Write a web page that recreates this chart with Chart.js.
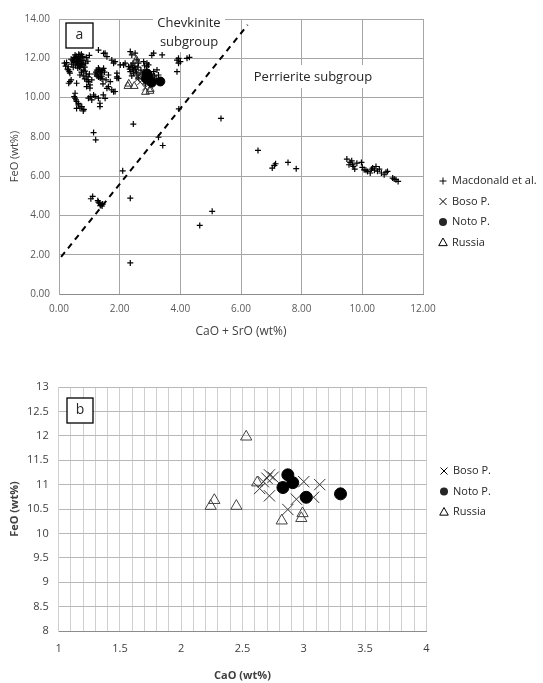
<!DOCTYPE html>
<html>
<head>
<meta charset="utf-8">
<script src="https://cdn.jsdelivr.net/npm/chart.js@4.4.0/dist/chart.umd.min.js"></script>
<style>
  html, body { margin: 0; padding: 0; background: #fff; }
  #wrapA { position: absolute; left: 0; top: 0; }
  #wrapB { position: absolute; left: 0; top: 360px; }
</style>
</head>
<body>
<div id="wrapA"><canvas id="chartA" width="543" height="345"></canvas></div>
<div id="wrapB"><canvas id="chartB" width="543" height="323"></canvas></div>
<script>
// ---- data ----
// panel a : CaO + SrO vs FeO (wt%)
var macdonald = [
  [0.18,11.75],[0.22,11.6],[0.25,11.78],[0.3,11.57],[0.34,11.32],[0.28,11.45],[0.45,11.9],[0.5,12.05],
  [0.53,12.17],[0.58,11.83],[0.6,11.95],[0.64,12.0],[0.66,11.7],[0.69,12.17],[0.7,11.85],[0.72,11.6],
  [0.75,11.66],[0.78,12.1],[0.8,11.4],[0.82,11.9],[0.85,11.55],[0.88,11.75],[0.9,12.05],[0.55,11.65],
  [0.62,11.5],[0.48,11.8],[0.4,11.95],[0.95,11.85],[1.0,12.15],[0.74,11.3],[0.69,11.15],
  [0.42,11.7],[0.47,11.55],[0.52,11.9],[0.57,12.1],[0.6,11.75],[0.63,11.85],[0.67,11.95],[0.71,12.05],
  [0.73,11.75],[0.76,11.9],[0.79,11.7],[0.56,12.0],[0.65,12.2],[0.62,11.65],[0.68,11.55],[0.74,12.2],
  [0.86,11.35],[0.9,11.2],[0.96,11.05],
  [0.32,10.73],[0.4,10.9],[0.36,11.24],[0.31,11.41],[0.36,10.81],[0.58,10.73],[0.92,10.9],[1.02,10.65],
  [0.91,10.56],[0.97,10.81],[1.08,10.9],[0.8,11.1],[0.85,10.95],[1.0,11.2],[1.02,10.48],
  [0.5,10.05],[0.53,10.22],[0.53,9.97],[0.56,9.88],[0.58,9.8],[0.64,9.7],[0.64,9.63],[0.69,9.46],
  [0.75,9.54],[0.8,9.32],[0.82,9.4],[0.58,9.45],[0.97,9.97],[1.03,10.05],[1.08,9.88],[1.14,10.13],
  [1.19,10.05],[1.3,9.97],[1.35,9.71],[1.35,9.54],[1.46,10.14],[1.52,9.96],
  [1.3,12.42],[1.47,12.25],[1.52,12.26],[1.58,12.08],[1.74,11.91],[1.8,11.75],[1.85,11.83],[1.19,11.2],
  [1.25,11.4],[1.3,11.5],[1.35,11.32],[1.41,11.06],[1.47,11.49],[1.5,11.3],[1.4,11.15],[1.63,11.15],
  [1.69,10.81],[1.58,10.47],[1.63,10.56],[1.74,10.39],[1.8,10.3],[1.85,10.31],[1.91,11.06],[1.91,10.99],
  [1.91,11.24],[1.96,10.98],[2.02,11.66],[2.13,11.66],[2.18,11.75],[1.55,10.9],[1.45,10.7],
  [1.22,11.3],[1.28,11.2],[1.33,11.42],[1.38,11.25],[1.44,11.38],[1.36,11.0],[1.3,11.05],[1.42,10.95],
  [1.25,11.1],
  [2.29,11.58],[2.33,11.45],[2.35,11.32],[2.35,12.34],[2.4,12.17],[2.46,11.4],[2.51,12.26],[2.57,11.92],
  [2.62,11.75],[2.46,11.24],[2.57,11.15],[2.62,10.99],[2.79,11.83],[2.9,11.75],[2.95,11.66],[2.82,11.62],
  [2.9,11.57],[3.12,11.32],[3.06,12.15],[3.12,12.26],[3.4,12.17],[3.23,11.41],[3.28,11.15],[2.7,11.4],
  [2.75,11.2],[3.0,11.0],[2.85,10.7],
  [2.38,11.65],[2.42,11.52],[2.5,11.6],[2.44,11.75],[2.53,11.45],[2.4,11.1],[2.55,11.3],[2.6,11.55],
  [2.8,11.3],[2.88,11.4],[2.95,11.3],[3.05,11.2],[3.15,11.1],[3.1,10.9],[3.2,10.95],[2.98,10.85],
  [3.89,11.32],[3.89,11.91],[3.94,12.0],[4.0,11.83],[3.94,11.75],[4.22,12.0],[4.3,12.05],
  [2.45,8.65],[1.14,8.22],[1.21,7.85],[3.95,9.42],[5.34,8.94],[3.42,7.56],[3.28,7.98],[2.1,6.27],
  [2.35,4.88],[2.35,1.58],[4.64,3.49],[5.05,4.21],
  [1.05,4.85],[1.11,4.97],[1.28,4.75],[1.33,4.63],[1.39,4.55],[1.44,4.58],[1.3,4.68],[1.36,4.5],[1.42,4.48],
  [6.56,7.31],[7.03,6.41],[7.14,6.63],[7.1,6.55],[7.55,6.7],[7.82,6.38],
  [9.49,6.87],[9.56,6.58],[9.6,6.7],[9.65,6.78],[9.68,6.58],[9.7,6.5],[9.75,6.36],[9.82,6.66],
  [9.97,6.7],[10.0,6.45],[10.06,6.32],[10.12,6.3],[10.17,6.24],[10.26,6.16],[10.3,6.35],[10.34,6.41],
  [10.4,6.3],[10.45,6.49],[10.5,6.25],[10.56,6.36],[10.63,6.16],[10.72,6.07],[10.78,6.2],[10.83,6.24],
  [11.0,5.9],[11.05,5.85],[11.11,5.82],[11.18,5.73]
];
var bosoA = [[2.67,11.22],[2.65,11.15],[2.62,11.08],[2.59,10.94],[2.68,10.79],[2.96,11.08],[3.1,11.02],
  [2.9,10.72],[3.04,10.76],[2.84,10.51]];
var notoA = [[2.91,11.22],[2.95,11.06],[2.87,10.96],[3.06,10.76],[3.34,10.82]];
var russiaA = [[2.55,11.92],[2.27,10.58],[2.3,10.7],[2.48,10.58],[2.65,11.05],[2.85,10.28],[3.01,10.43],[3.0,10.33]];
var boundary = [[0.07,1.89],[6.22,13.7]];

// panel b : CaO vs FeO (wt%)
var bosoB = [[2.72,11.2],[2.70,11.13],[2.67,11.06],[2.64,10.92],[2.72,10.77],[3.0,11.06],[3.13,11.0],
  [2.94,10.7],[3.08,10.74],[2.87,10.49],[2.75,11.15]];
var notoB = [[2.87,11.2],[2.91,11.04],[2.83,10.94],[3.02,10.74],[3.30,10.81]];
var russiaB = [[2.53,11.98],[2.27,10.68],[2.24,10.56],[2.45,10.56],[2.62,11.04],[2.82,10.26],[2.99,10.41],[2.98,10.31]];

var rangeA = { xMin: 0, xMax: 12, xStep: 2, yMin: 0, yMax: 14, yStep: 2 };
var rangeB = { xMin: 1, xMax: 4, xStep: 0.1, yMin: 8, yMax: 13, yStep: 0.5 };

function pts(arr) {
  return arr.map(function(p) { return { x: p[0], y: p[1] }; });
}

Chart.defaults.font.family = "'Open Sans', sans-serif";
Chart.defaults.color = '#404040';

// small hand drawn legend marks
function mark(ctx, style, r, x, y, fill) {
  ctx.save();
  ctx.strokeStyle = '#000';
  ctx.fillStyle = fill || '#000';
  ctx.lineWidth = 1;
  ctx.beginPath();
  if (style === 'cross') {
    ctx.moveTo(x - r, y); ctx.lineTo(x + r, y);
    ctx.moveTo(x, y - r); ctx.lineTo(x, y + r);
    ctx.stroke();
  } else if (style === 'crossRot') {
    ctx.moveTo(x - r, y - r); ctx.lineTo(x + r, y + r);
    ctx.moveTo(x + r, y - r); ctx.lineTo(x - r, y + r);
    ctx.stroke();
  } else if (style === 'circle') {
    ctx.arc(x, y, r, 0, Math.PI * 2);
    ctx.fill();
  } else if (style === 'triangle') {
    ctx.moveTo(x, y - r);
    ctx.lineTo(x + r * 0.95, y + r * 0.7);
    ctx.lineTo(x - r * 0.95, y + r * 0.7);
    ctx.closePath();
    ctx.stroke();
  }
  ctx.restore();
}

// text boxes + side legend
var notes = {
  id: 'notes',
  beforeDatasetsDraw: function(chart, args, o) {
    var ctx = chart.ctx;
    ctx.save();
    (o.blocks || []).forEach(function(b) {
      ctx.fillStyle = '#fff';
      ctx.fillRect(b.x, b.y, b.w, b.h);
      if (b.border) {
        ctx.strokeStyle = '#000';
        ctx.lineWidth = 1.3;
        ctx.strokeRect(b.x, b.y, b.w, b.h);
      }
      ctx.fillStyle = '#262626';
      ctx.font = b.font;
      ctx.textAlign = 'center';
      ctx.textBaseline = 'middle';
      b.lines.forEach(function(t, i) {
        ctx.fillText(t, b.x + b.w / 2, b.ty + i * b.lh);
      });
    });
    ctx.restore();
  },
  afterDraw: function(chart, args, o) {
    if (!o.legend) return;
    var ctx = chart.ctx, L = o.legend;
    ctx.save();
    ctx.font = L.font;
    ctx.textAlign = 'left';
    ctx.textBaseline = 'middle';
    L.items.forEach(function(it, i) {
      var y = L.y + i * L.gap;
      mark(ctx, it.style, it.r, L.x, y, it.fill);
      ctx.fillStyle = '#262626';
      ctx.fillText(it.text, L.x + 9, y);
    });
    ctx.restore();
  }
};

// ---- chart a ----
new Chart(document.getElementById('chartA').getContext('2d'), {
  type: 'scatter',
  data: {
    datasets: [
      { label: 'Noto P.', data: pts(notoA), pointStyle: 'circle', pointRadius: 4.5,
        backgroundColor: '#000', borderColor: '#000', borderWidth: 1, order: 1 },
      { label: 'Boso P.', data: pts(bosoA), pointStyle: 'crossRot', pointRadius: 4,
        borderColor: '#222', borderWidth: 1, order: 2 },
      { label: 'Russia', data: pts(russiaA), pointStyle: 'triangle', pointRadius: 4.5,
        backgroundColor: 'rgba(255,255,255,0)', borderColor: '#333', borderWidth: 1, order: 3 },
      { label: 'Macdonald et al.', data: pts(macdonald), pointStyle: 'cross', pointRadius: 3,
        borderColor: '#000', borderWidth: 1.2, order: 4 },
      { label: '', data: pts(boundary), showLine: true, pointRadius: 0, borderColor: '#000',
        borderWidth: 2, borderDash: [6, 5], order: 5 }
    ]
  },
  options: {
    responsive: false,
    animation: false,
    layout: { padding: { left: 0, right: 120, top: 19, bottom: 0 } },
    plugins: {
      legend: { display: false },
      tooltip: { enabled: false },
      notes: {
        blocks: [
          { x: 66, y: 23, w: 27, h: 25, border: true, font: "14px 'Open Sans'", lines: ['a'], ty: 35, lh: 0 },
          { x: 153, y: 12, w: 72, h: 40, font: "13px 'Open Sans'", lines: ['Chevkinite', 'subgroup'], ty: 23, lh: 19 },
          { x: 248, y: 65, w: 130, h: 23, font: "13px 'Open Sans'", lines: ['Perrierite subgroup'], ty: 77, lh: 0 }
        ],
        legend: {
          x: 443, y: 181, gap: 20.5, font: "11px 'Open Sans'",
          items: [
            { style: 'cross', r: 3.5, text: 'Macdonald et al.' },
            { style: 'crossRot', r: 3.5, text: 'Boso P.' },
            { style: 'circle', r: 4, text: 'Noto P.' },
            { style: 'triangle', r: 4.5, text: 'Russia' }
          ]
        }
      }
    },
    scales: {
      x: {
        type: 'linear', min: rangeA.xMin, max: rangeA.xMax,
        afterFit: function(s) { s.height = 51; },
        ticks: { stepSize: rangeA.xStep, padding: 9, color: '#595959', font: { size: 10 },
          callback: function(v) { return v.toFixed(2); } },
        grid: { color: '#a6a6a6', drawTicks: false },
        border: { color: '#8c8c8c' },
        title: { display: true, text: 'CaO + SrO (wt%)', color: '#404040', font: { size: 12 },
          padding: { top: 0, bottom: 6 } }
      },
      y: {
        type: 'linear', min: rangeA.yMin, max: rangeA.yMax,
        afterFit: function(s) { s.width = 59; },
        ticks: { stepSize: rangeA.yStep, padding: 9, color: '#595959', font: { size: 10 },
          callback: function(v) { return v.toFixed(2); } },
        grid: { color: '#a6a6a6', drawTicks: false },
        border: { color: '#a6a6a6' },
        title: { display: true, text: 'FeO (wt%)', color: '#404040', font: { size: 11 },
          padding: { top: 8, bottom: 0 } }
      }
    }
  },
  plugins: [notes]
});

// ---- chart b ----
function isHalf(v) { return Math.abs(v * 2 - Math.round(v * 2)) < 1e-6; }
function short(v) { return String(Math.round(v * 10) / 10); }

new Chart(document.getElementById('chartB').getContext('2d'), {
  type: 'scatter',
  data: {
    datasets: [
      { label: 'Noto P.', data: pts(notoB), pointStyle: 'circle', pointRadius: 6,
        backgroundColor: '#000', borderColor: '#000', borderWidth: 1, order: 1 },
      { label: 'Boso P.', data: pts(bosoB), pointStyle: 'crossRot', pointRadius: 8,
        borderColor: '#333', borderWidth: 1, order: 2 },
      { label: 'Russia', data: pts(russiaB), pointStyle: 'triangle', pointRadius: 6.5,
        backgroundColor: 'rgba(255,255,255,0)', borderColor: '#444', borderWidth: 1, order: 3 }
    ]
  },
  options: {
    responsive: false,
    animation: false,
    layout: { padding: { left: 0, right: 116.7, top: 27, bottom: 0 } },
    plugins: {
      legend: { display: false },
      tooltip: { enabled: false },
      notes: {
        blocks: [
          { x: 67, y: 38, w: 26, h: 25, border: true, font: "14px 'Open Sans'", lines: ['b'], ty: 50, lh: 0 }
        ],
        legend: {
          x: 444, y: 111, gap: 20.5, font: "11px 'Open Sans'",
          items: [
            { style: 'crossRot', r: 3.5, text: 'Boso P.' },
            { style: 'circle', r: 4, text: 'Noto P.' },
            { style: 'triangle', r: 4.5, text: 'Russia' }
          ]
        }
      }
    },
    scales: {
      x: {
        type: 'linear', min: rangeB.xMin, max: rangeB.xMax,
        afterFit: function(s) { s.height = 52; },
        ticks: { stepSize: rangeB.xStep, padding: 11, color: '#404040', font: { size: 11 },
          autoSkip: false, maxRotation: 0,
          callback: function(v) { return isHalf(v) ? short(v) : ''; } },
        grid: { color: '#d0d0d0', drawTicks: false },
        border: { color: '#8c8c8c' },
        title: { display: true, text: 'CaO (wt%)', color: '#404040', font: { size: 11, weight: 'bold' },
          padding: { top: 0, bottom: 0.5 } }
      },
      y: {
        type: 'linear', min: rangeB.yMin, max: rangeB.yMax,
        afterFit: function(s) { s.width = 58.7; },
        ticks: { stepSize: rangeB.yStep, padding: 10, color: '#404040', font: { size: 11 },
          callback: function(v) { return short(v); } },
        grid: { color: '#b8b8b8', drawTicks: false },
        border: { color: '#d0d0d0' },
        title: { display: true, text: 'FeO (wt%)', color: '#404040', font: { size: 11, weight: 'bold' },
          padding: { top: 8, bottom: 0 } }
      }
    }
  },
  plugins: [notes]
});
</script>
</body>
</html>
